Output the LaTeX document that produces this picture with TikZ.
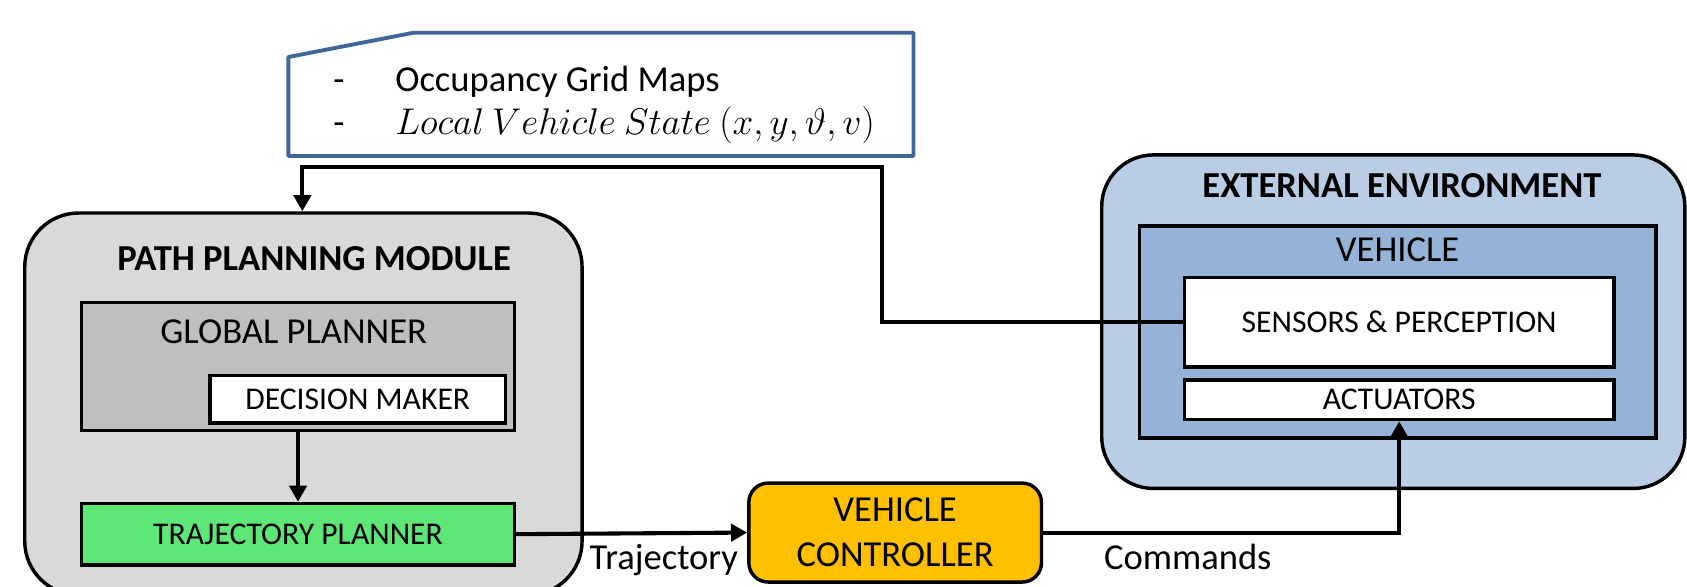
\documentclass[tikz,border=0pt]{standalone}
\usepackage{fontspec}
\setmainfont{Carlito}
\usetikzlibrary{arrows.meta}
\definecolor{pmgray}{HTML}{D9D9D9}
\definecolor{gpgray}{HTML}{BFBFBF}
\definecolor{tpgreen}{HTML}{5EE677}
\definecolor{vcorange}{HTML}{FFC000}
\definecolor{eeblue}{HTML}{B9CDE5}
\definecolor{vehblue}{HTML}{95B3D7}
\definecolor{callblue}{HTML}{41669A}
\newcommand{\bigfont}{\fontsize{17}{20}\selectfont}
\newcommand{\smallfont}{\fontsize{14.7}{17}\selectfont}
\begin{document}
\begin{tikzpicture}[x=0.5pt,y=-0.5pt,
  boxbase/.style={draw=black, line width=1.6pt, inner sep=0pt},
  plainbox/.style={boxbase, rectangle},
  roundbox/.style={boxbase, rectangle, rounded corners=#1},
  lbl/.style={inner sep=0pt, font=\bigfont},
  slbl/.style={inner sep=0pt, font=\smallfont},
  arr/.style={line width=1.9pt, -{Triangle[length=7.5pt,width=8pt]}},
  callout/.style={draw=callblue, line width=1.8pt, line join=round, fill=white}]
\useasboundingbox (0,0) rectangle (1568,545);
\clip (0,0) rectangle (1568,545);

% Path planning module
\node[roundbox=25pt, fill=pmgray, minimum width=259pt, minimum height=177.5pt] (pm) at (282,375.5) {};
\node[lbl, font=\bigfont\bfseries] (pmt) at (292,240) {PATH PLANNING MODULE};
\node[plainbox, fill=gpgray, minimum width=201pt, minimum height=59.5pt] (gp) at (277,340.5) {};
\node[lbl] (gpt) at (273,308) {GLOBAL PLANNER};
\node[plainbox, fill=white, minimum width=137.5pt, minimum height=22pt, font=\smallfont] (dm) at (332.5,371) {DECISION MAKER};
\node[plainbox, fill=tpgreen, minimum width=201pt, minimum height=28.5pt, font=\smallfont] (tp) at (277,496.5) {TRAJECTORY PLANNER};

% Vehicle controller
\node[roundbox=9pt, fill=vcorange, minimum width=136pt, minimum height=46pt, font=\bigfont, align=center] (vc) at (832,495) {VEHICLE\\[1pt]CONTROLLER};

% External environment
\node[roundbox=24pt, fill=eeblue, minimum width=271pt, minimum height=155pt] (ee) at (1295,299) {};
\node[lbl, font=\bigfont\bfseries] (eet) at (1303,173) {EXTERNAL ENVIRONMENT};
\node[plainbox, fill=vehblue, minimum width=240pt, minimum height=98.5pt] (veh) at (1299,308.5) {};
\node[lbl] (veht) at (1299,232) {VEHICLE};
\node[plainbox, fill=white, minimum width=199.5pt, minimum height=41.5pt, font=\smallfont] (sp) at (1300.5,299.5) {SENSORS \& PERCEPTION};
\node[plainbox, fill=white, minimum width=199.5pt, minimum height=18.5pt, font=\smallfont] (act) at (1300.5,371.5) {ACTUATORS};

% Callout
\draw[callout] (268,53) -- (384,30.5) -- (849,30.5) -- (849,145) -- (268,145) -- cycle;
\node[lbl, anchor=west] (o1) at (367,76) {Occupancy Grid Maps};
\node[lbl, anchor=west] (o2) at (367,116) {$Local\ Vehicle\ State\ (x, y, \vartheta, v)$};
\node[lbl, anchor=base] (d1) at (o1.base -| 315,0) {-};
\node[lbl, anchor=base] (d2) at (o1.base -| 315,0) [yshift=-20pt] {-};

% Connectors
\coordinate (c2) at (820,155);
\coordinate (c3) at (281,155);
\draw[arr] (sp.west) -| (c2) -- (c3) -- (c3 |- pm.north);
\draw[arr] (gp.south) -- (tp.north);
\draw[arr] (tp.east) -- (vc.west);
\draw[arr] (vc.east) -| (act.south);
\node[lbl] (trl) at (617,521) {Trajectory};
\node[lbl] (cml) at (1104,518) {Commands};
\end{tikzpicture}
\end{document}
